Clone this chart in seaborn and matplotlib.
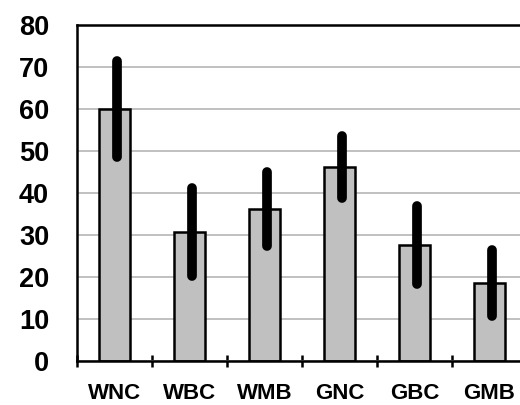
import matplotlib
matplotlib.use("Agg")
import matplotlib.pyplot as plt
import seaborn as sns
import pandas as pd
import numpy as np
from matplotlib.ticker import FixedLocator

categories = ["WNC", "WBC", "WMB", "GNC", "GBC", "GMB"]
means = [60.0, 30.7, 36.2, 46.2, 27.6, 18.6]
errors = [11.4, 10.4, 8.9, 7.4, 9.2, 7.9]
y_ticks = [0, 10, 20, 30, 40, 50, 60, 70, 80]

sns.set_theme(style="white")
plt.rcParams['font.family'] = ['Liberation Sans', 'DejaVu Sans']

df = pd.DataFrame({"cat": categories, "val": means})

fig = plt.figure(figsize=(5.2, 4.05), dpi=100)
ax = fig.add_axes([77/520, 44/405, 450/520, 336/405])

sns.barplot(data=df, x="cat", y="val", ax=ax, color="#c0c0c0",
            edgecolor="black", linewidth=1.8, width=0.41, saturation=1)
ax.errorbar(np.arange(len(categories)) + 0.03, means, yerr=errors, fmt="none",
            ecolor="black", elinewidth=7, capsize=0, zorder=5)
for coll in ax.collections:
    coll.set_capstyle("round")

ax.set_ylim(0, 80)
ax.set_xlim(-0.5, 5.5)
ax.set_yticks(y_ticks)
ax.yaxis.grid(True, color="#c0c0c0", linewidth=1.4)
ax.set_axisbelow(True)
ax.set_xlabel("")
ax.set_ylabel("")

for s in ["left", "bottom", "top"]:
    ax.spines[s].set_visible(True)
    ax.spines[s].set_color("black")
    ax.spines[s].set_linewidth(1.8)
ax.spines["right"].set_visible(False)

ax.tick_params(axis="y", length=0, pad=20, labelsize=19.5)
ax.tick_params(axis="x", which="major", length=0, pad=16, labelsize=16)
ax.xaxis.set_minor_locator(FixedLocator([-0.5, 0.5, 1.5, 2.5, 3.5, 4.5]))
ax.tick_params(axis="x", which="minor", direction="inout", length=8,
               width=1.8, color="black", bottom=True)
for lab in ax.get_yticklabels() + ax.get_xticklabels():
    lab.set_fontweight("bold")
    lab.set_color("black")

fig.savefig("out.png", dpi=100)
